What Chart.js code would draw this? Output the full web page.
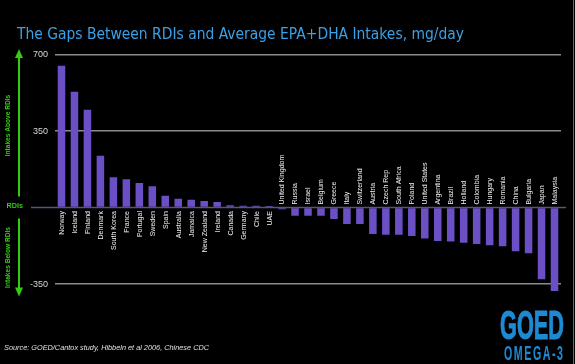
<!DOCTYPE html>
<html>
<head>
<meta charset="utf-8">
<script src="https://cdn.jsdelivr.net/npm/chart.js@4.4.0/dist/chart.umd.min.js"></script>
<style>
  html, body { margin: 0; padding: 0; background: #000; }
  #wrap { position: relative; width: 575px; height: 364px; background: #000; overflow: hidden; }
  #c { position: absolute; left: 0; top: 0; }
  .txt { position: absolute; white-space: nowrap; transform-origin: 0 0; }
  #title { left: 16.5px; top: 24px; font: 16.5px 'DejaVu Sans', sans-serif; line-height: 20px; color: #3ca0e6; }
  #source { left: 4px; top: 343.6px; font: italic 7px 'Liberation Sans', Arial, sans-serif; line-height: 8px; color: #e0e0e0; }
  #goed { left: 500px; top: 304.8px; font: bold 40px 'Liberation Sans', Arial, sans-serif; line-height: 40px; color: #1e8ad4; -webkit-text-stroke: 1px #1e8ad4; }
  #omega { left: 503.7px; top: 343.3px; font: bold 20.5px 'Liberation Sans', Arial, sans-serif; line-height: 20.5px; color: #1e8ad4; letter-spacing: 3px; }
  #edge { position: absolute; left: 573px; top: 0; width: 1px; height: 364px; background: #6a6a6a; }
</style>
</head>
<body>
<div id="wrap">
  <canvas id="c" width="575" height="364"></canvas>
  <div id="title" class="txt" data-w="447">The Gaps Between RDIs and Average EPA+DHA Intakes, mg/day</div>
  <div id="source" class="txt" data-w="205">Source: GOED/Cantox study, Hibbeln et al 2006, Chinese CDC</div>
  <div id="goed" class="txt" data-w="64">GOED</div>
  <div id="omega" class="txt" data-w="60.5">OMEGA-3</div>
  <div id="edge"></div>
</div>
<script>
const categories = ['Norway','Iceland','Finland','Denmark','South Korea','France','Portugal','Sweden','Spain','Australia','Jamaica','New Zealand','Ireland','Canada','Germany','Chile','UAE','United Kingdom','Russia','Israel','Belgium','Greece','Italy','Switzerland','Austria','Czech Rep','South Africa','Poland','United States','Argentina','Brazil','Holland','Colombia','Hungary','Romania','China','Bulgaria','Japan','Malaysia'];
const gapValues = [649,530,447,237,139,129,112,97,54,40,36,30,25,11,8,8,7,-8,-37,-37,-37,-52,-75,-75,-121,-124,-124,-130,-142,-153,-155,-161,-167,-173,-177,-200,-209,-328,-382];
const yTickValues = [-350, 0, 350, 700];
const zeroLabel = 'RDIs';
const aboveLabel = 'Intakes Above RDIs';
const belowLabel = 'Intakes Below RDIs';

// fit HTML text widths
document.querySelectorAll('.txt').forEach(el => {
  const w = parseFloat(el.dataset.w);
  const nat = el.getBoundingClientRect().width;
  if (nat > 0) el.style.transform = 'scaleX(' + (w / nat) + ')';
});

const GREEN = '#33cc11';

const decor = {
  id: 'decor',
  beforeDatasetsDraw(chart) {
    const ctx = chart.ctx;
    const y0 = chart.scales.y.getPixelForValue(0);
    ctx.save();
    ctx.strokeStyle = '#5a5478';
    ctx.lineWidth = 1.5;
    ctx.beginPath();
    ctx.moveTo(31, y0);
    ctx.lineTo(566, y0);
    ctx.stroke();
    ctx.restore();
  },
  afterDatasetsDraw(chart) {
    const ctx = chart.ctx;
    const xs = chart.scales.x, ys = chart.scales.y;
    const y0 = ys.getPixelForValue(0);
    ctx.save();
    ctx.fillStyle = '#f2f2f2';
    ctx.font = '7px "Liberation Sans", Arial, sans-serif';
    ctx.textBaseline = 'middle';
    categories.forEach((name, i) => {
      const x = xs.getPixelForValue(i);
      const v = gapValues[i];
      ctx.save();
      if (v >= 0) {
        ctx.translate(x, y0 + 3.5);
        ctx.rotate(-Math.PI / 2);
        ctx.textAlign = 'right';
      } else {
        ctx.translate(x, y0 - 3);
        ctx.rotate(-Math.PI / 2);
        ctx.textAlign = 'left';
      }
      ctx.fillText(name, 0, 0.5);
      ctx.restore();
    });
    ctx.restore();
  },
  afterDraw(chart) {
    const ctx = chart.ctx;
    const ys = chart.scales.y;
    const y0 = ys.getPixelForValue(0);
    const yTop = ys.getPixelForValue(700);
    const yBot = ys.bottom;
    ctx.save();
    ctx.strokeStyle = GREEN;
    ctx.fillStyle = GREEN;
    ctx.lineWidth = 2;
    // upper arrow
    ctx.beginPath();
    ctx.moveTo(19, yTop + 2);
    ctx.lineTo(19, y0 - 11);
    ctx.stroke();
    ctx.beginPath();
    ctx.moveTo(19, yTop - 5.5);
    ctx.lineTo(15, yTop + 3.5);
    ctx.lineTo(23, yTop + 3.5);
    ctx.closePath();
    ctx.fill();
    // lower arrow
    ctx.beginPath();
    ctx.moveTo(19, y0 + 11);
    ctx.lineTo(19, yBot - 6);
    ctx.stroke();
    ctx.beginPath();
    ctx.moveTo(19, yBot + 1.5);
    ctx.lineTo(15, yBot - 7.5);
    ctx.lineTo(23, yBot - 7.5);
    ctx.closePath();
    ctx.fill();
    // labels
    ctx.textAlign = 'center';
    ctx.textBaseline = 'middle';
    ctx.font = 'bold 7.2px "Liberation Sans", Arial, sans-serif';
    ctx.fillText(zeroLabel, 14.7, y0 - 1.5);
    ctx.font = 'bold 6.6px "Liberation Sans", Arial, sans-serif';
    ctx.save();
    ctx.translate(8.5, 125.5);
    ctx.rotate(-Math.PI / 2);
    ctx.fillText(aboveLabel, 0, 0);
    ctx.restore();
    ctx.save();
    ctx.translate(8.5, 257.5);
    ctx.rotate(-Math.PI / 2);
    ctx.fillText(belowLabel, 0, 0);
    ctx.restore();
    ctx.restore();
  }
};

new Chart(document.getElementById('c'), {
  type: 'bar',
  data: {
    labels: categories,
    datasets: [{
      data: gapValues,
      backgroundColor: '#6b4fc4',
      borderWidth: 0,
      categoryPercentage: 1,
      barPercentage: 0.58
    }]
  },
  options: {
    responsive: false,
    animation: false,
    devicePixelRatio: 1,
    layout: { padding: { left: 0, right: 14, top: 54.5, bottom: 69 } },
    plugins: { legend: { display: false }, tooltip: { enabled: false } },
    scales: {
      x: { display: false },
      y: {
        min: -400,
        max: 700,
        afterBuildTicks: s => { s.ticks = yTickValues.map(v => ({ value: v })); },
        afterFit: s => { s.width = 55; },
        border: { display: false },
        grid: {
          drawTicks: false,
          lineWidth: 1.5,
          color: c => (c.tick && c.tick.value === 0) ? 'rgba(0,0,0,0)' : '#8a8a8a'
        },
        ticks: {
          padding: 7,
          color: '#d8d8d8',
          font: { size: 9, family: '"Liberation Sans", Arial, sans-serif' },
          callback: v => v === 0 ? '' : String(v)
        }
      }
    }
  },
  plugins: [decor]
});
</script>
</body>
</html>
